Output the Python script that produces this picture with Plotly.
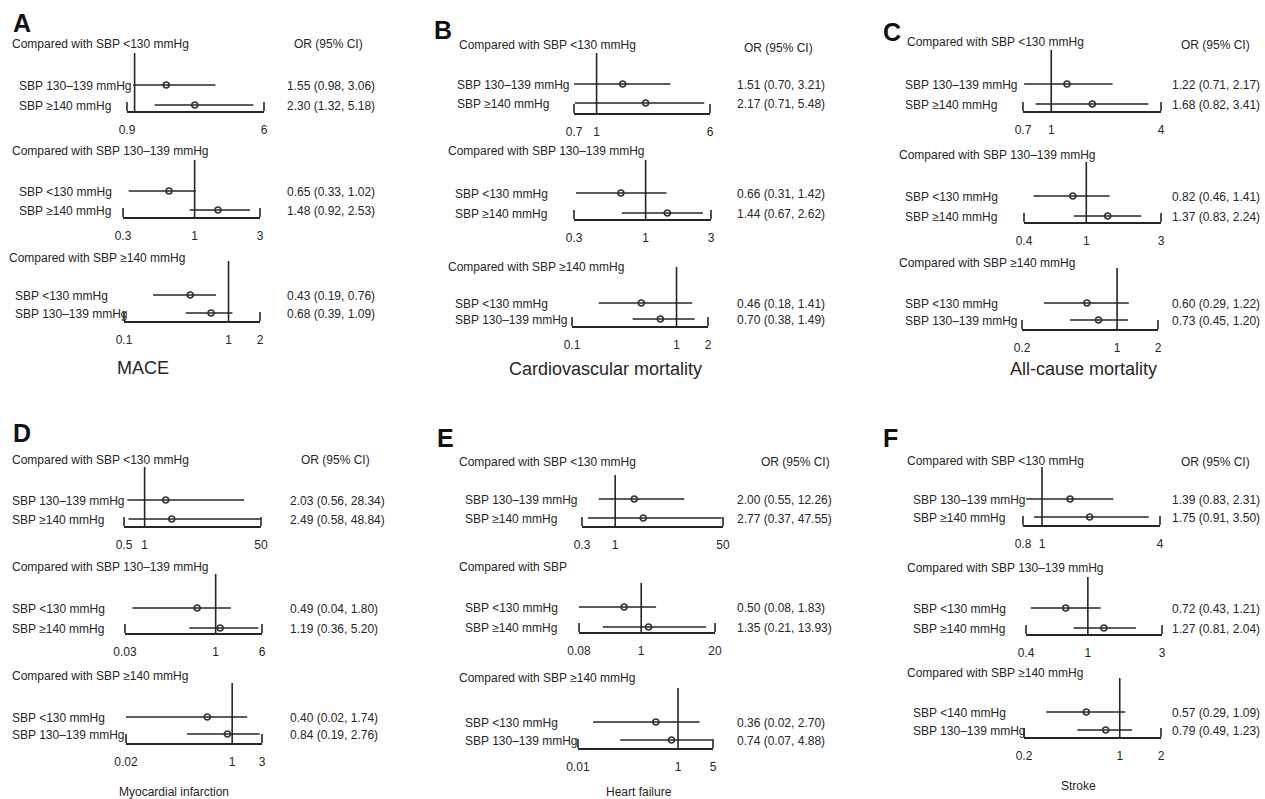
import math
import plotly.graph_objects as go

W, H = 1265, 799

# ---------------- data ----------------
panel_letters = ["A", "B", "C", "D", "E", "F"]
outcomes = ["MACE", "Cardiovascular mortality", "All-cause mortality",
            "Myocardial infarction", "Heart failure", "Stroke"]

hdr_std = ["Compared with SBP <130 mmHg", "Compared with SBP 130–139 mmHg",
           "Compared with SBP ≥140 mmHg"]
hdr_E = ["Compared with SBP <130 mmHg", "Compared with SBP",
         "Compared with SBP ≥140 mmHg"]
headers = [hdr_std, hdr_std, hdr_std, hdr_std, hdr_E, hdr_std]

rows_std = [["SBP 130–139 mmHg", "SBP ≥140 mmHg"],
            ["SBP <130 mmHg", "SBP ≥140 mmHg"],
            ["SBP <130 mmHg", "SBP 130–139 mmHg"]]
rows_F = [["SBP 130–139 mmHg", "SBP ≥140 mmHg"],
          ["SBP <130 mmHg", "SBP ≥140 mmHg"],
          ["SBP <140 mmHg", "SBP 130–139 mmHg"]]
row_labels = [rows_std, rows_std, rows_std, rows_std, rows_std, rows_F]

or_est = [
    [[1.55, 2.30], [0.65, 1.48], [0.43, 0.68]],
    [[1.51, 2.17], [0.66, 1.44], [0.46, 0.70]],
    [[1.22, 1.68], [0.82, 1.37], [0.60, 0.73]],
    [[2.03, 2.49], [0.49, 1.19], [0.40, 0.84]],
    [[2.00, 2.77], [0.50, 1.35], [0.36, 0.74]],
    [[1.39, 1.75], [0.72, 1.27], [0.57, 0.79]],
]
ci_low = [
    [[0.98, 1.32], [0.33, 0.92], [0.19, 0.39]],
    [[0.70, 0.71], [0.31, 0.67], [0.18, 0.38]],
    [[0.71, 0.82], [0.46, 0.83], [0.29, 0.45]],
    [[0.56, 0.58], [0.04, 0.36], [0.02, 0.19]],
    [[0.55, 0.37], [0.08, 0.21], [0.02, 0.07]],
    [[0.83, 0.91], [0.43, 0.81], [0.29, 0.49]],
]
ci_high = [
    [[3.06, 5.18], [1.02, 2.53], [0.76, 1.09]],
    [[3.21, 5.48], [1.42, 2.62], [1.41, 1.49]],
    [[2.17, 3.41], [1.41, 2.24], [1.22, 1.20]],
    [[28.34, 48.84], [1.80, 5.20], [1.74, 2.76]],
    [[12.26, 47.55], [1.83, 13.93], [2.70, 4.88]],
    [[2.31, 3.50], [1.21, 2.04], [1.09, 1.23]],
]
# axis ticks (first = axis start, last = axis end)
axis_ticks = [
    [[0.9, 6], [0.3, 1, 3], [0.1, 1, 2]],
    [[0.7, 1, 6], [0.3, 1, 3], [0.1, 1, 2]],
    [[0.7, 1, 4], [0.4, 1, 3], [0.2, 1, 2]],
    [[0.5, 1, 50], [0.03, 1, 6], [0.02, 1, 3]],
    [[0.3, 1, 50], [0.08, 1, 20], [0.01, 1, 5]],
    [[0.8, 1, 4], [0.4, 1, 3], [0.2, 1, 2]],
]
ref_value = 1

# ---------------- layout geometry (pixels) ----------------
# per sub-plot: x_left, x_right, axis_y, top_y, row1_y, row2_y, label_x, header_x, header_y
geo = [
    [(127, 264, 111, 53, 85, 105, 17, 10, 44),
     (123, 260, 217, 160, 191, 210, 17, 10, 151),
     (124, 260, 321, 261, 295, 313, 13, 7, 258)],
    [(574, 710, 113, 53, 84, 103, 455, 457, 45),
     (574, 711, 219, 160, 193, 213, 453, 446, 151),
     (572, 708, 326, 267, 303, 319, 453, 446, 267)],
    [(1023, 1161, 111, 50, 84, 104, 903, 905, 42),
     (1024, 1161, 222, 162, 196, 216, 903, 897, 155),
     (1022, 1158, 329, 268, 303, 320, 903, 897, 263)],
    [(124, 261, 526, 467, 500, 519, 10, 10, 460),
     (125, 262, 633, 574, 608, 628, 10, 10, 567),
     (126, 262, 743, 683, 717, 734, 10, 10, 676)],
    [(582, 723, 526, 475, 499, 518, 463, 457, 462),
     (579, 715, 632, 583, 607, 627, 463, 457, 567),
     (578, 713, 748, 688, 722, 740, 463, 457, 678)],
    [(1023, 1160, 525, 467, 499, 517, 911, 905, 461),
     (1026, 1162, 634, 577, 608, 628, 911, 905, 568),
     (1024, 1161, 737, 678, 712, 730, 911, 905, 673)],
]
# per panel: OR text x, OR header (cx, y), letter (cx, cy), title (cx, cy, size)
pgeo = [
    (285, (328, 44), (22, 23), (143, 368, 18)),
    (735, (778, 48), (443, 30), (605, 369, 18)),
    (1170, (1215, 45), (892, 32), (1083, 369, 18)),
    (288, (335, 460), (22, 433), (174, 792, 12)),
    (735, (795, 462), (445, 438), (639, 792, 12)),
    (1170, (1215, 462), (890, 438), (1078, 786, 12)),
]
BRACKET_PX = 9

FONT = "Liberation Sans, Arial, Helvetica, sans-serif"
NARROW = "Liberation Sans Narrow, Arial Narrow, Liberation Sans, sans-serif"
INK = "#262626"


def px(x):
    return x / W


def py(y):
    return 1 - y / H


fig = go.Figure()
annotations = []
shapes = []
layout_axes = {}

k = 0
for p in range(6):
    or_x, (ohx, ohy), (lx, ly), (tx, ty, ts) = pgeo[p]
    annotations.append(dict(x=px(lx), y=py(ly), xref="paper", yref="paper",
                            text="<b>" + panel_letters[p] + "</b>", showarrow=False,
                            xanchor="center", yanchor="middle",
                            font=dict(family=FONT, size=25, color="#111")))
    annotations.append(dict(x=px(ohx), y=py(ohy), xref="paper", yref="paper",
                            text="OR (95% CI)", showarrow=False,
                            xanchor="center", yanchor="middle",
                            font=dict(family=FONT, size=12, color=INK)))
    annotations.append(dict(x=px(tx), y=py(ty), xref="paper", yref="paper",
                            text=outcomes[p], showarrow=False,
                            xanchor="center", yanchor="middle",
                            font=dict(family=FONT, size=ts, color=INK)))
    for s in range(3):
        k += 1
        xl, xr, ax_y, top_y, r1, r2, lab_x, hx, hy = geo[p][s]
        xa = "x" if k == 1 else f"x{k}"
        ya = "y" if k == 1 else f"y{k}"
        upp = 1.0 / (r2 - r1)
        ybot = 1 - (ax_y - r2) * upp
        ytop = 2 + (r1 - top_y) * upp
        yrows = [2, 1]
        ticks = axis_ticks[p][s]
        lo_v, hi_v = ticks[0], ticks[-1]

        layout_axes["xaxis" if k == 1 else f"xaxis{k}"] = dict(
            type="log", domain=[px(xl), px(xr)],
            range=[math.log10(lo_v), math.log10(hi_v)],
            anchor=ya, showgrid=False, zeroline=False, automargin=False,
            showline=True, linecolor=INK, linewidth=1.5,
            ticks="", tickvals=ticks,
            ticktext=[f"{v:g}" for v in ticks],
            tickangle=0,
            tickfont=dict(family=FONT, size=12, color=INK),
            ticklabelstandoff=7, fixedrange=True,
        )
        layout_axes["yaxis" if k == 1 else f"yaxis{k}"] = dict(
            domain=[py(ax_y), py(top_y)], range=[ybot, ytop],
            anchor=xa, visible=False, fixedrange=True, automargin=False,
        )
        # bracket ends of the axis
        frac = BRACKET_PX / (ax_y - top_y)
        for xd in (0, 1):
            shapes.append(dict(type="line", xref=f"{xa} domain", yref=f"{ya} domain",
                               x0=xd, x1=xd, y0=0, y1=frac,
                               line=dict(color=INK, width=1.6)))
        # reference line
        fig.add_trace(go.Scatter(x=[ref_value, ref_value], y=[ybot, ytop],
                                 xaxis=xa, yaxis=ya, mode="lines",
                                 line=dict(color=INK, width=1.6),
                                 hoverinfo="skip", showlegend=False))
        # CI lines
        cx, cy = [], []
        for i in range(2):
            cx += [ci_low[p][s][i], ci_high[p][s][i], None]
            cy += [yrows[i], yrows[i], None]
        fig.add_trace(go.Scatter(x=cx, y=cy, xaxis=xa, yaxis=ya, mode="lines",
                                 line=dict(color=INK, width=1.6),
                                 hoverinfo="skip", showlegend=False))
        # point estimates
        fig.add_trace(go.Scatter(x=or_est[p][s], y=yrows, xaxis=xa, yaxis=ya,
                                 mode="markers",
                                 marker=dict(symbol="circle-open", size=6,
                                             color="#333", line=dict(width=1.7)),
                                 showlegend=False))
        # header
        annotations.append(dict(x=px(hx), y=py(hy), xref="paper", yref="paper",
                                text=headers[p][s], showarrow=False,
                                xanchor="left", yanchor="middle",
                                font=dict(family=FONT, size=12, color=INK)))
        for i in range(2):
            annotations.append(dict(x=px(lab_x), y=yrows[i], xref="paper", yref=ya,
                                    text=row_labels[p][s][i], showarrow=False,
                                    xanchor="left", yanchor="middle", yshift=-1,
                                    font=dict(family=FONT, size=12, color=INK)))
            txt = f"{or_est[p][s][i]:.2f} ({ci_low[p][s][i]:.2f}, {ci_high[p][s][i]:.2f})"
            annotations.append(dict(x=px(or_x), y=yrows[i], xref="paper", yref=ya,
                                    text=txt, showarrow=False,
                                    xanchor="left", yanchor="middle", yshift=-1,
                                    font=dict(family=NARROW, size=12, color=INK)))

fig.update_layout(
    template="none",
    width=W, height=H, margin=dict(l=0, r=0, t=0, b=0, pad=0, autoexpand=False),
    paper_bgcolor="white", plot_bgcolor="white",
    showlegend=False, annotations=annotations, shapes=shapes, **layout_axes,
)

fig.write_html(
    "out.html",
    config={"displayModeBar": False, "staticPlot": True},
    post_script="document.body.style.margin='0';document.body.style.overflow='hidden';",
)
